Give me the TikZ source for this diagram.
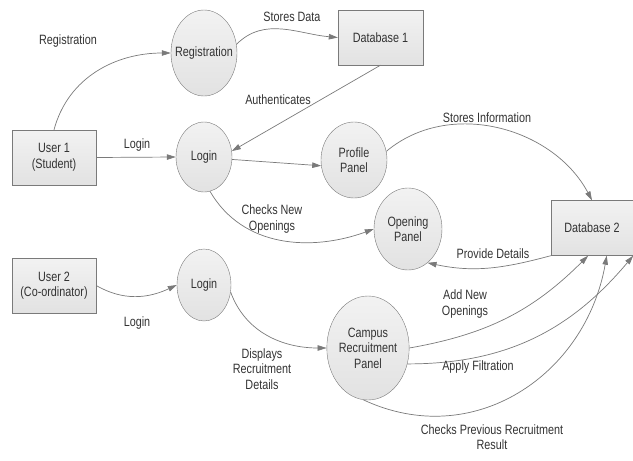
\documentclass[tikz,border=0pt]{standalone}
\usepackage{fontspec}
\setmainfont[FakeStretch=0.8]{Liberation Sans}
\usetikzlibrary{shapes.geometric,arrows.meta}
\definecolor{linec}{HTML}{7A7A7A}
\definecolor{filltop}{HTML}{F2F2F2}
\definecolor{fillbot}{HTML}{E2E2E2}
\definecolor{txtc}{HTML}{333333}
\begin{document}
\begin{tikzpicture}[x=1pt,y=1pt,
  every node/.style={font=\fontsize{13.5}{15.5}\selectfont, text=txtc},
  proc/.style={ellipse, draw=linec, top color=filltop, bottom color=fillbot, inner sep=0pt, align=center},
  ent/.style={rectangle, draw=linec, top color=filltop, bottom color=fillbot, minimum width=84, minimum height=55, align=center},
  flow/.style={draw=linec, line width=0.7pt, -{Triangle[length=9pt,width=5.5pt]}},
  lbl/.style={align=center}]
\useasboundingbox (0,0) rectangle (633,-461);
% nodes
\node[ent] (u1) at (54,-157.5) {User 1\\(Student)};
\node[ent] (u2) at (54,-285.5) {User 2\\(Co-ordinator)};
\node[ent, minimum width=85] (db1) at (380.5,-37.5) {Database 1};
\node[ent, minimum width=82] (db2) at (592,-228) {Database 2};
\node[proc, minimum width=66, minimum height=86, inner xsep=-8pt] (reg) at (204,-53) {Registration};
\node[proc, minimum width=56, minimum height=70] (l1) at (204,-157) {Login};
\node[proc, minimum width=66, minimum height=76] (prof) at (354,-160) {Profile\\Panel};
\node[proc, minimum width=68, minimum height=82] (open) at (408,-229) {Opening\\Panel};
\node[proc, minimum width=54, minimum height=72] (l2) at (204,-285) {Login};
\node[proc, minimum width=78, minimum height=104] (camp) at (368,-348) {Campus\\Recruitment\\Panel};
% connectors
\draw[flow] (u1.north) to[out=75,in=180] (reg.west);
\draw[flow] (reg.15) to[out=45,in=175] (db1.west);
\draw[flow] (db1.south) -- (l1.12);
\draw[flow] (u1.east) -- (l1.west);
\draw[flow] (l1.-5) -- (prof.190);
\draw[flow] (prof.15) to[out=40,in=118] (db2.north);
\draw[flow] (l1.-80) to[out=-60,in=200] (open.west);
\draw[flow] (db2.south west) to[out=195,in=-12] (open.-60);
\draw[flow] (u2.east) to[out=-30,in=205] (l2.west);
\draw[flow] (l2.-15) to[out=-70,in=180] (camp.west);
\draw[flow] (camp.east) to[out=10,in=-135] (db2.-98);
\draw[flow] (camp.-22) to[out=0,in=-130] (db2.south east);
\draw[flow] (camp.-95) to[out=-25,in=-100,looseness=1.1] (db2.-62);
% labels
\node[lbl] (t1) at (68,-41) {Registration};
\node[lbl] (t2) at (292,-17) {Stores Data};
\node[lbl] (t3) at (278,-100) {Authenticates};
\node[lbl] (t4) at (137,-145) {Login};
\node[lbl] (t5) at (487,-118) {Stores Information};
\node[lbl] (t6) at (272,-219) {Checks New\\Openings};
\node[lbl] (t7) at (493,-254) {Provide Details};
\node[lbl] (t8) at (137,-323) {Login};
\node[lbl] (t9) at (465,-304) {Add New\\Openings};
\node[lbl] (t10) at (262,-369) {Displays\\Recruitment\\Details};
\node[lbl] (t11) at (478,-367) {Apply Filtration};
\node[lbl] (t12) at (492,-437) {Checks Previous Recruitment\\Result};
\end{tikzpicture}
\end{document}
